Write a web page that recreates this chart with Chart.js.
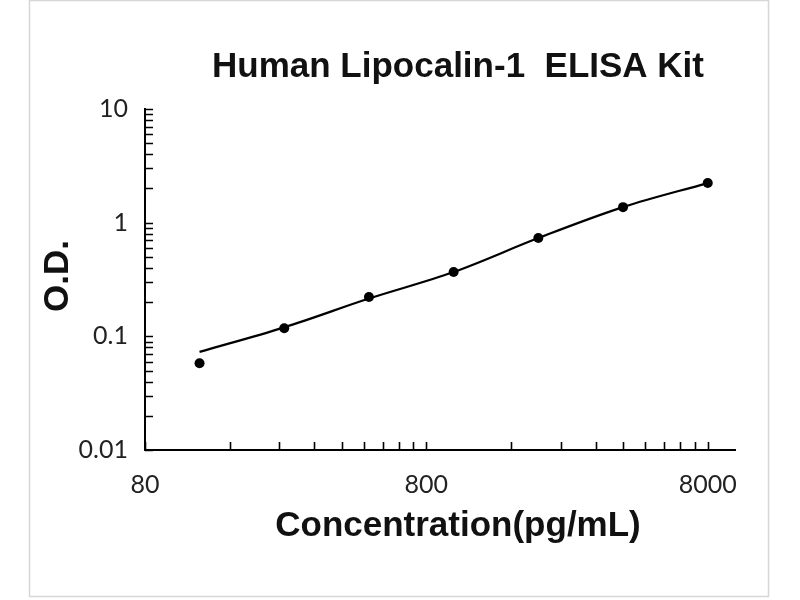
<!DOCTYPE html>
<html>
<head>
<meta charset="utf-8">
<title>Human Lipocalin-1 ELISA Kit</title>
<script src="https://cdn.jsdelivr.net/npm/chart.js@4.4.1/dist/chart.umd.min.js"></script>
<style>
  html, body { margin: 0; padding: 0; background: #fff; }
  #wrap { position: relative; width: 800px; height: 600px; }
</style>
</head>
<body>
<div id="wrap"><canvas id="elisaChart" width="800" height="600"></canvas></div>
<script>
// ── Data ─────────────────────────────────────────────────────────────
// Standard curve (log-log)
const concentrations = [125, 250, 500, 1000, 2000, 4000, 8000];   // pg/mL
const odValues       = [0.058, 0.118, 0.222, 0.368, 0.732, 1.37, 2.23];
const fitValues      = [0.073, 0.120, 0.215, 0.368, 0.732, 1.37, 2.23];

// Labelled ticks; minor ticks are the 2..9 multiples in between
const xTickLabels = [80, 800, 8000];
const yTickLabels = [0.01, 0.1, 1, 10];

function withMinors(majors) {
    const out = [];
    majors.forEach((v, i) => {
        out.push(v);
        if (i < majors.length - 1) {
            for (let k = 2; k <= 9; k++) out.push(v * k);
        }
    });
    return out;
}
const isMajor = (list, v) => list.some(m => Math.abs(m - v) / m < 1e-6);

// ── Extra drawing: frame, inside tick marks, titles ──────────────────
const decorations = {
    id: 'decorations',
    beforeDraw(chart) {
        const ctx = chart.ctx;
        ctx.save();
        ctx.fillStyle = '#fff';
        ctx.fillRect(0, 0, chart.width, chart.height);
        ctx.strokeStyle = '#d6d6d6';
        ctx.lineWidth = 1.5;
        ctx.strokeRect(29.5, 0.5, 739, 596);
        ctx.restore();
    },
    afterDraw(chart) {
        const ctx = chart.ctx;
        const xs = chart.scales.x, ys = chart.scales.y;
        const area = chart.chartArea;
        ctx.save();
        ctx.strokeStyle = '#000';
        ctx.lineWidth = 1.6;
        ctx.beginPath();
        xs.ticks.forEach(t => {
            const px = Math.round(xs.getPixelForValue(t.value)) + 0.5;
            ctx.moveTo(px, area.bottom);
            ctx.lineTo(px, area.bottom - 8);
        });
        ys.ticks.forEach(t => {
            const py = Math.round(ys.getPixelForValue(t.value)) + 0.5;
            ctx.moveTo(area.left, py);
            ctx.lineTo(area.left + 8, py);
        });
        ctx.stroke();

        ctx.fillStyle = '#111';
        ctx.font = 'bold 35px "Liberation Sans", Arial, sans-serif';
        ctx.textAlign = 'center';
        ctx.textBaseline = 'middle';
        ctx.fillText('Human Lipocalin-1  ELISA Kit', 458, 67);
        ctx.fillText('Concentration(pg/mL)', 458, 526);
        ctx.translate(58, 276);
        ctx.rotate(-Math.PI / 2);
        ctx.fillText('O.D.', 0, 0);
        ctx.restore();
    }
};

// ── Chart ─────────────────────────────────────────────────────────────
const tickFont = { family: 'Lato, "Open Sans", sans-serif', size: 25 };

new Chart(document.getElementById('elisaChart').getContext('2d'), {
    type: 'scatter',
    data: {
        datasets: [
            {
                label: 'Standard',
                data: concentrations.map((c, i) => ({ x: c, y: odValues[i] })),
                showLine: false,
                pointRadius: 5,
                pointBackgroundColor: '#000',
                pointBorderColor: '#000',
                pointBorderWidth: 0
            },
            {
                label: 'Fit',
                data: concentrations.map((c, i) => ({ x: c, y: fitValues[i] })),
                showLine: true,
                borderColor: '#000',
                borderWidth: 2.2,
                pointRadius: 0,
                tension: 0.35
            }
        ]
    },
    options: {
        responsive: false,
        animation: false,
        devicePixelRatio: 1,
        layout: { padding: { top: 109, right: 65, bottom: 0, left: 0 } },
        plugins: {
            legend: { display: false },
            tooltip: { enabled: false },
            title: { display: false }
        },
        scales: {
            x: {
                type: 'logarithmic',
                position: 'bottom',
                min: 80,
                max: 10000,
                afterBuildTicks: s => { s.ticks = withMinors(xTickLabels).map(v => ({ value: v })); },
                afterFit: s => { s.height = 150; },
                grid: { display: false, drawTicks: false },
                border: { display: true, color: '#000', width: 2 },
                ticks: {
                    autoSkip: false,
                    maxRotation: 0,
                    padding: 20,
                    color: '#222',
                    font: tickFont,
                    callback: v => isMajor(xTickLabels, v) ? String(v) : ''
                }
            },
            y: {
                type: 'logarithmic',
                min: 0.01,
                max: 10,
                afterBuildTicks: s => { s.ticks = withMinors(yTickLabels).map(v => ({ value: v })); },
                afterFit: s => { s.width = 145; },
                grid: { display: false, drawTicks: false },
                border: { display: true, color: '#000', width: 2 },
                ticks: {
                    autoSkip: false,
                    padding: 17,
                    color: '#222',
                    font: tickFont,
                    callback: v => {
                        const m = yTickLabels.find(t => Math.abs(t - v) / t < 1e-6);
                        return m !== undefined ? String(m) : '';
                    }
                }
            }
        }
    },
    plugins: [decorations]
});
</script>
</body>
</html>
